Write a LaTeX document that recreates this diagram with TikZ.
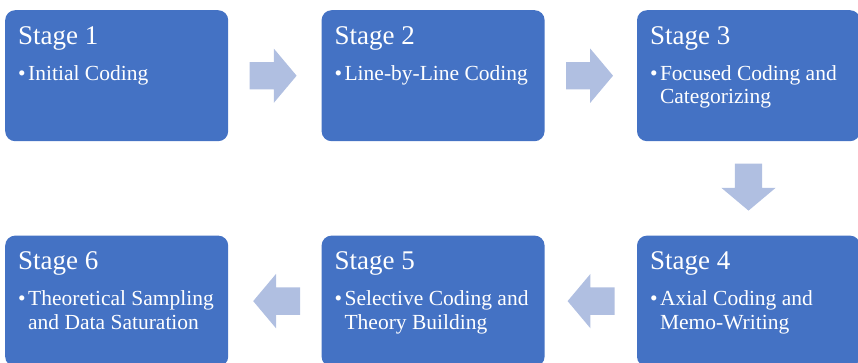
\documentclass[tikz,border=0pt]{standalone}
\usepackage{fontspec}
\setmainfont{Liberation Serif}
\usetikzlibrary{positioning,shapes.arrows,calc}
\definecolor{stageblue}{HTML}{4472C4}
\definecolor{arrowblue}{HTML}{B0BFE1}

\begin{document}
\begin{tikzpicture}[
stagebox/.style={rectangle, rounded corners=10pt, fill=stageblue, minimum width=223pt, minimum height=131pt, inner sep=0pt},
stagetitle/.style={anchor=base west, text=white, inner sep=0pt, font=\fontsize{27}{30}\selectfont},
stagebullet/.style={anchor=base west, text=white, inner sep=0pt, font=\fontsize{21.5}{23.5}\selectfont},
stageitem/.style={anchor=north west, text=white, inner sep=0pt, align=left, font=\fontsize{21.5}{23.5}\selectfont},
flowarrow/.style={single arrow, fill=arrowblue, minimum height=47pt, inner xsep=0pt, inner ysep=13.5pt, text height=0pt, text depth=0pt, text width=0pt, single arrow head extend=13.5pt, single arrow tip angle=100},
]
\useasboundingbox (0,0) rectangle (858pt,-362pt);
\clip (0,0) rectangle (858pt,-362pt);

%Boxes
\node[stagebox, anchor=north west](Stage1) at (5pt,-10pt) {};
\node[stagebox](Stage2)[right=93pt of Stage1]{};
\node[stagebox](Stage3)[right=92pt of Stage2]{};
\node[stagebox](Stage4)[below=94pt of Stage3]{};
\node[stagebox](Stage5)[left=92pt of Stage4]{};
\node[stagebox](Stage6)[left=93pt of Stage5]{};

%Titles
\node[stagetitle](Title1) at ($(Stage1.north west)+(13pt,-34pt)$) {Stage 1};
\node[stagetitle](Title2) at ($(Stage2.north west)+(13pt,-34pt)$) {Stage 2};
\node[stagetitle](Title3) at ($(Stage3.north west)+(13pt,-34pt)$) {Stage 3};
\node[stagetitle](Title4) at ($(Stage4.north west)+(13pt,-34pt)$) {Stage 4};
\node[stagetitle](Title5) at ($(Stage5.north west)+(13pt,-34pt)$) {Stage 5};
\node[stagetitle](Title6) at ($(Stage6.north west)+(13pt,-34pt)$) {Stage 6};

%Bullets
\node[stagebullet](Bullet1) at ($(Stage1.north west)+(13pt,-70pt)$) {•};
\node[stagebullet](Bullet2) at ($(Stage2.north west)+(13pt,-70pt)$) {•};
\node[stagebullet](Bullet3) at ($(Stage3.north west)+(13pt,-70pt)$) {•};
\node[stagebullet](Bullet4) at ($(Stage4.north west)+(13pt,-70pt)$) {•};
\node[stagebullet](Bullet5) at ($(Stage5.north west)+(13pt,-70pt)$) {•};
\node[stagebullet](Bullet6) at ($(Stage6.north west)+(13pt,-70pt)$) {•};

%Items
\node[stageitem](Item1) at ($(Stage1.north west)+(23pt,-55pt)$) {Initial Coding};
\node[stageitem](Item2) at ($(Stage2.north west)+(23pt,-55pt)$) {Line-by-Line Coding};
\node[stageitem](Item3) at ($(Stage3.north west)+(23pt,-55pt)$) {Focused Coding and\\Categorizing};
\node[stageitem](Item4) at ($(Stage4.north west)+(23pt,-55pt)$) {Axial Coding and\\Memo-Writing};
\node[stageitem](Item5) at ($(Stage5.north west)+(23pt,-55pt)$) {Selective Coding and\\Theory Building};
\node[stageitem](Item6) at ($(Stage6.north west)+(23pt,-55pt)$) {Theoretical Sampling\\and Data Saturation};

%Arrows
\node[flowarrow, right=21pt of Stage1, anchor=tail](Arrow12){};
\node[flowarrow, right=21pt of Stage2, anchor=tail](Arrow23){};
\node[flowarrow, shape border rotate=270, inner xsep=13.5pt, inner ysep=0pt, below=22pt of Stage3, anchor=tail](Arrow34){};
\node[flowarrow, shape border rotate=180, left=22pt of Stage4, anchor=tail](Arrow45){};
\node[flowarrow, shape border rotate=180, left=21pt of Stage5, anchor=tail](Arrow56){};

\end{tikzpicture}
\end{document}
